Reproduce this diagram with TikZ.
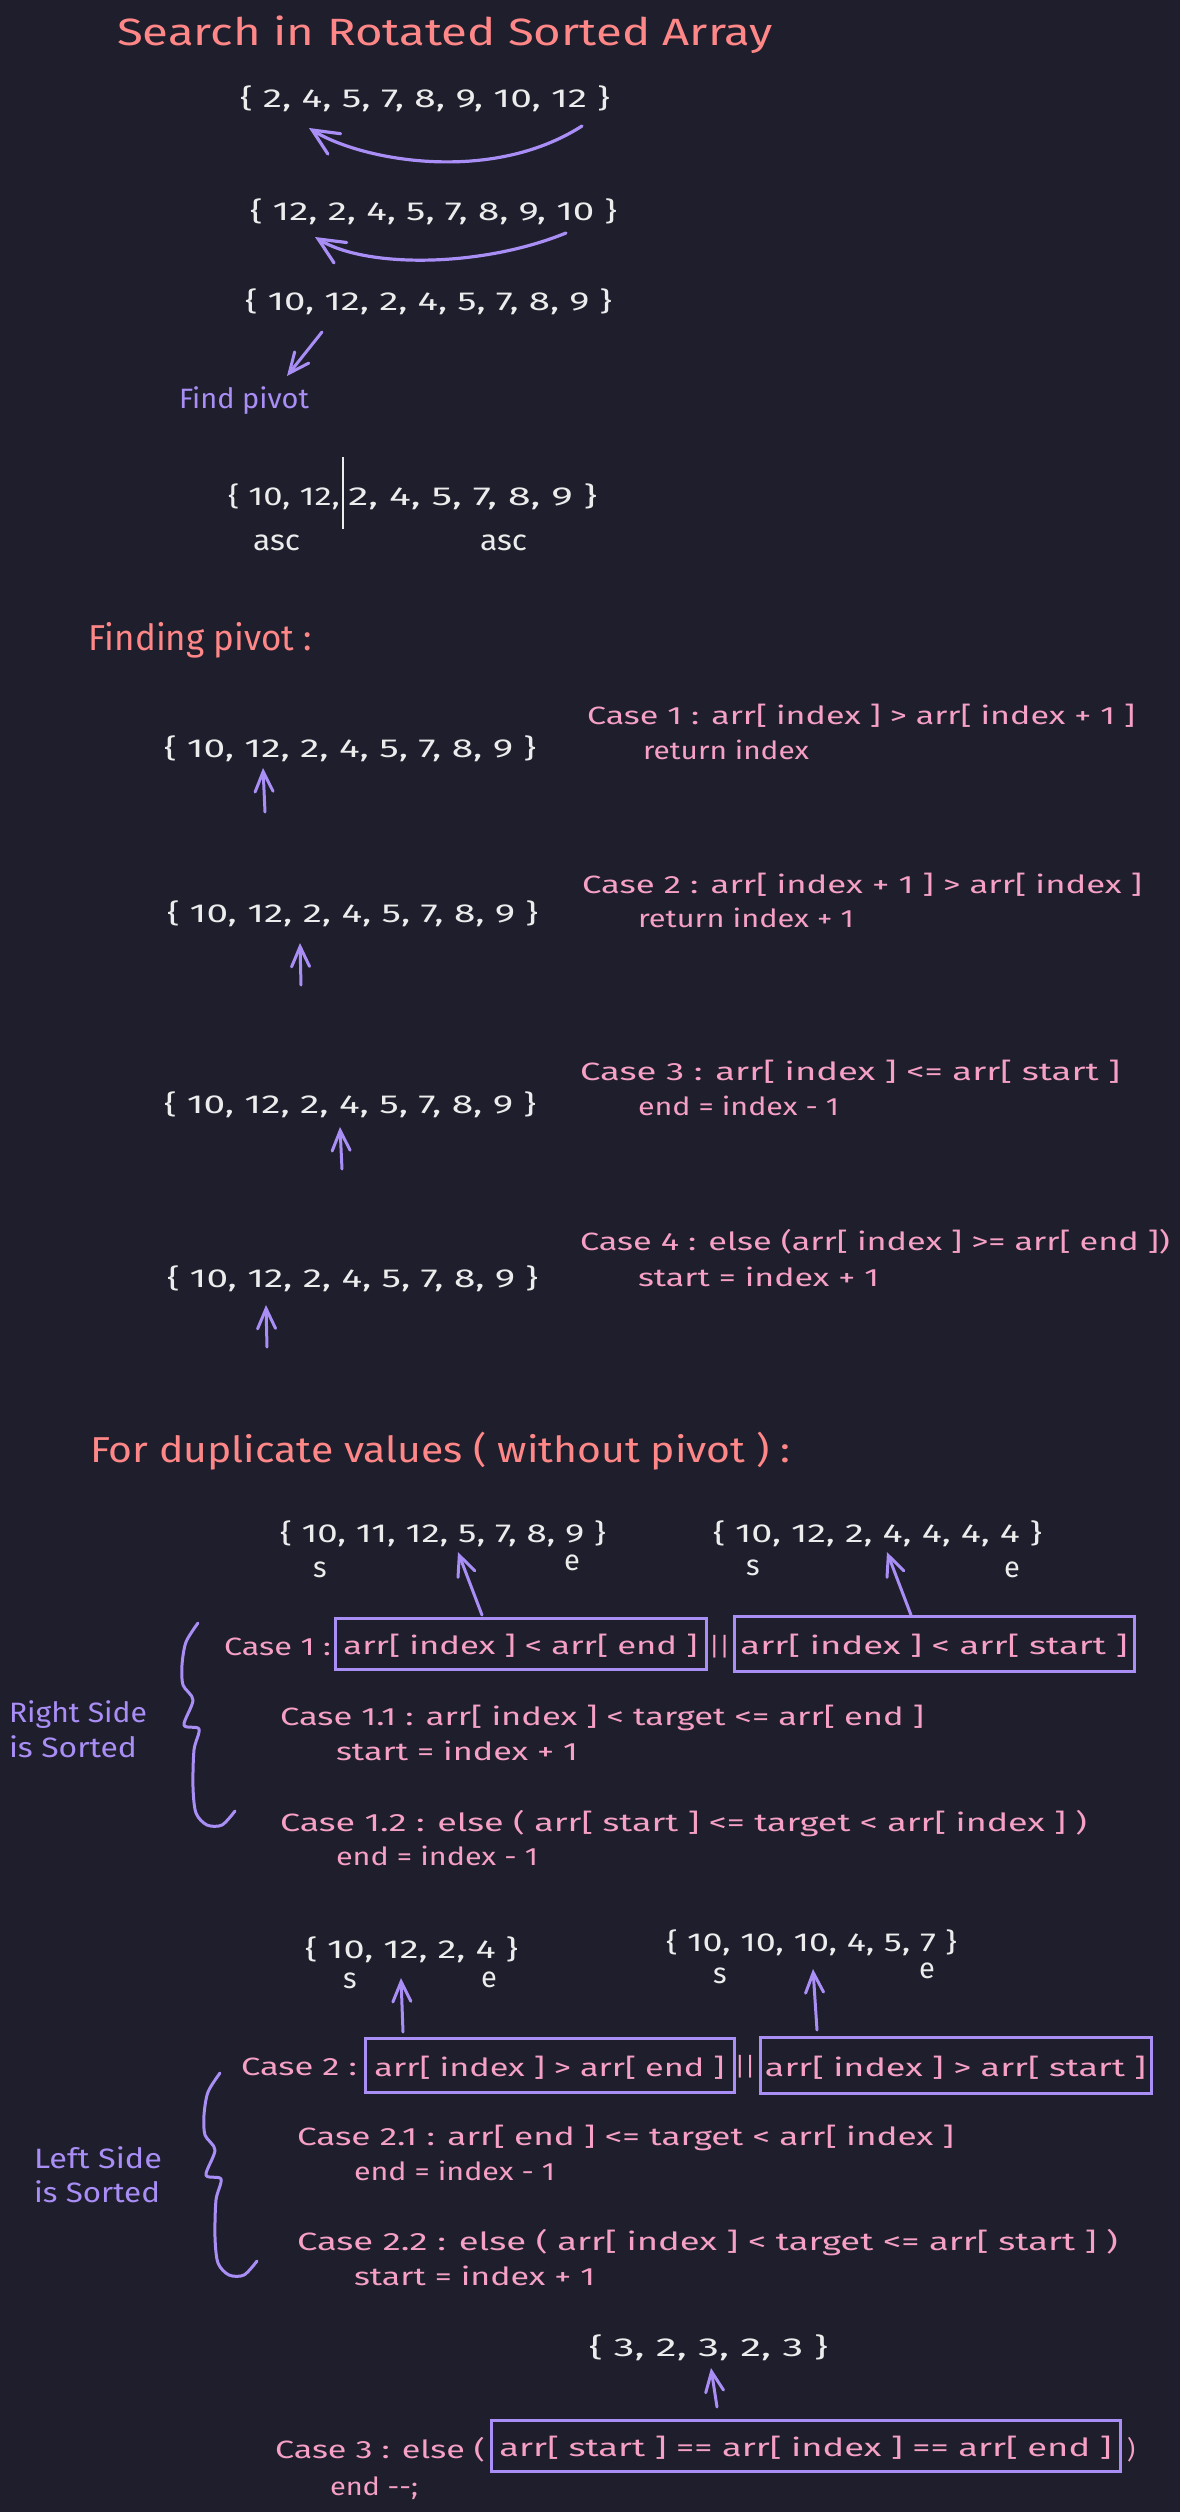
\documentclass[tikz,border=0pt]{standalone}
\usepackage{fontspec}
\setmainfont{Fira Sans}
\usepackage{graphicx}
\usetikzlibrary{arrows.meta}
\definecolor{bg}{HTML}{1E1E2C}
\definecolor{wht}{HTML}{ECECEC}
\definecolor{salm}{HTML}{FF8787}
\definecolor{pnk}{HTML}{F5A0C4}
\definecolor{purp}{HTML}{A98EF6}
\newdimen\mypx \mypx=0.5pt
\newcommand\ft[3]{\resizebox{#1\mypx}{#2pt}{\rule{0pt}{1em}#3}}
\tikzset{
 tx/.style={anchor=base west, inner sep=0pt, outer sep=0pt},
 wt/.style={tx, text=wht},
 pk/.style={tx, text=pnk},
 sm/.style={tx, text=salm},
 pp/.style={tx, text=purp},
 ltr/.style={anchor=base, inner sep=0pt, outer sep=0pt, text=wht, font=\fontsize{14.5}{16}\selectfont},
 orsym/.style={anchor=base, inner sep=0pt, outer sep=0pt, text=pnk, font=\fontsize{12.5}{15}\selectfont},
 bx/.style={draw=purp, line width=1.5pt, inner sep=0pt, text=pnk},
 parr/.style={draw=purp, line width=1.5pt, line cap=round, -{Straight Barb[length=10pt,width=9pt,line cap=round]}},
 carr/.style={draw=purp, line width=1.6pt, line cap=round, -{Straight Barb[length=13pt,width=12pt,line cap=round]}},
 brc/.style={draw=purp, line width=1.5pt, line cap=round, line join=round},
}
\begin{document}
\begin{tikzpicture}[x=0.5pt,y=-0.5pt]
\useasboundingbox (0,0) rectangle (1180,2512);
\fill[bg] (0,0) rectangle (1180,2512);

% ---- title and rotations
\node[sm] (title) at (117,45) {\ft{656}{19}{Search in Rotated Sorted Array}};
\node[wt] (arr1) at (240,107) {\ft{370}{13}{\{ 2, 4, 5, 7, 8, 9, 10, 12 \}}};
\node[wt] (arr2) at (250,220) {\ft{367}{13}{\{ 12, 2, 4, 5, 7, 8, 9, 10 \}}};
\node[wt] (arr3) at (245,310) {\ft{367}{13}{\{ 10, 12, 2, 4, 5, 7, 8, 9 \}}};
\coordinate (c1s) at (582,126);
\coordinate (c1e) at (309,128);
\draw[carr] (c1s) .. controls (490,185) and (360,160) .. (c1e);
\coordinate (c2s) at (566,233);
\coordinate (c2e) at (315,237);
\draw[carr] (c2s) .. controls (480,268) and (365,268) .. (c2e);
\coordinate (c3s) at (322,332);
\coordinate (c3e) at (287,376);
\draw[parr] (c3s) -- (c3e);
\node[pp] (findp) at (179,408) {\ft{130}{14}{Find pivot}};

% ---- split array
\node[wt] (spl1) at (228,505) {\ft{112}{13}{\{ 10, 12,}};
\node[wt] (spl2) at (348,505) {\ft{249}{13}{2, 4, 5, 7, 8, 9 \}}};
\coordinate (vt) at (343,457);
\coordinate (vb) at (343,529);
\draw[wht, line width=1.2pt] (vt) -- (vb);
\node[wt] (asc1) at (253,550) {\ft{47}{14.5}{asc}};
\node[wt] (asc2) at (480,550) {\ft{47}{14.5}{asc}};

% ---- finding pivot
\node[sm] (h1) at (89,650) {\ft{223}{18}{Finding pivot :}};

\node[wt] (r1) at (164,757) {\ft{372}{13}{\{ 10, 12, 2, 4, 5, 7, 8, 9 \}}};
\coordinate (a1s) at (265,812); \coordinate (a1e) at (263,768);
\draw[parr] (a1s) -- (a1e);
\node[pk] (k1) at (587,724) {\ft{548}{12.5}{Case 1 : arr[ index ] > arr[ index + 1 ]}};
\node[pk] (k1b) at (643,759) {\ft{166}{12.5}{return index}};

\node[wt] (r2) at (167,922) {\ft{371}{13}{\{ 10, 12, 2, 4, 5, 7, 8, 9 \}}};
\coordinate (a2s) at (301,985); \coordinate (a2e) at (300,943);
\draw[parr] (a2s) -- (a2e);
\node[pk] (k2) at (582,893) {\ft{560}{12.5}{Case 2 : arr[ index + 1 ] > arr[ index ]}};
\node[pk] (k2b) at (638,927) {\ft{216}{12.5}{return index + 1}};

\node[wt] (r3) at (164,1113) {\ft{372}{13}{\{ 10, 12, 2, 4, 5, 7, 8, 9 \}}};
\coordinate (a3s) at (342,1169); \coordinate (a3e) at (340,1127);
\draw[parr] (a3s) -- (a3e);
\node[pk] (k3) at (580,1080) {\ft{540}{12.5}{Case 3 : arr[ index ] <= arr[ start ]}};
\node[pk] (k3b) at (638,1115) {\ft{201}{12.5}{end = index - 1}};

\node[wt] (r4) at (167,1287) {\ft{371}{13}{\{ 10, 12, 2, 4, 5, 7, 8, 9 \}}};
\coordinate (a4s) at (267,1347); \coordinate (a4e) at (266,1305);
\draw[parr] (a4s) -- (a4e);
\node[pk] (k4) at (580,1250) {\ft{590}{12.5}{Case 4 : else (arr[ index ] >= arr[ end ])}};
\node[pk] (k4b) at (638,1286) {\ft{241}{12.5}{start = index + 1}};

% ---- duplicates
\node[sm] (h2) at (90,1462) {\ft{700}{18}{For duplicate values ( without pivot ) :}};

\node[wt] (arrA) at (280,1542) {\ft{326}{13}{\{ 10, 11, 12, 5, 7, 8, 9 \}}};
\node[ltr] (sA) at (320,1577) {s};
\node[ltr] (eA) at (572,1570) {e};
\node[wt] (arrB) at (713,1542) {\ft{329}{13}{\{ 10, 12, 2, 4, 4, 4, 4 \}}};
\node[ltr] (sB) at (753,1575) {s};
\node[ltr] (eB) at (1012,1577) {e};

\node[pk] (d1) at (224,1655) {\ft{107}{12.5}{Case 1 :}};
\node[bx, minimum width=185.5pt, minimum height=25.5pt] (boxA) at (520.5,1643.5) {\ft{354}{12.5}{arr[ index ] < arr[ end ]}};
\node[orsym] (or1) at (719.5,1655) {||};
\node[bx, minimum width=200pt, minimum height=27.5pt] (boxB) at (934,1643.5) {\ft{387}{12.5}{arr[ index ] < arr[ start ]}};
\coordinate (aAs) at (482,1615); \coordinate (aAe) at (458,1552);
\draw[parr] (aAs) -- (aAe);
\coordinate (aBs) at (911,1615); \coordinate (aBe) at (887,1552);
\draw[parr] (aBs) -- (aBe);

\draw[brc] plot[smooth, tension=0.5] coordinates {(198,1623) (186,1642) (182,1665) (183,1685) (193,1700) (184,1725) (199,1729) (194,1750) (193,1787) (196,1813) (207,1825) (222,1825) (235,1811)};
\node[pp] (rs1) at (9,1722) {\ft{138}{14}{Right Side}};
\node[pp] (rs2) at (9,1757) {\ft{128}{14}{is Sorted}};

\node[pk] (d11) at (280,1725) {\ft{644}{12.5}{Case 1.1 : arr[ index ] < target <= arr[ end ]}};
\node[pk] (d11b) at (336,1760) {\ft{242}{12.5}{start = index + 1}};
\node[pk] (d12) at (280,1831) {\ft{807}{12.5}{Case 1.2 : else ( arr[ start ] <= target < arr[ index ] )}};
\node[pk] (d12b) at (336,1865) {\ft{202}{12.5}{end = index - 1}};

\node[wt] (arrC) at (305,1958) {\ft{213}{13}{\{ 10, 12, 2, 4 \}}};
\node[ltr] (sC) at (350,1988) {s};
\node[ltr] (eC) at (489,1987) {e};
\node[wt] (arrD) at (666,1951) {\ft{291}{13}{\{ 10, 10, 10, 4, 5, 7 \}}};
\node[ltr] (sD) at (720,1983) {s};
\node[ltr] (eD) at (927,1978) {e};

\node[pk] (d2) at (241,2075) {\ft{116}{12.5}{Case 2 :}};
\node[bx, minimum width=184.5pt, minimum height=27pt] (boxC) at (549.5,2065) {\ft{350}{12.5}{arr[ index ] > arr[ end ]}};
\node[orsym] (or2) at (745,2075) {||};
\node[bx, minimum width=195.5pt, minimum height=28pt] (boxD) at (955.5,2065) {\ft{381}{12.5}{arr[ index ] > arr[ start ]}};
\coordinate (aCs) at (403,2032); \coordinate (aCe) at (401,1978);
\draw[parr] (aCs) -- (aCe);
\coordinate (aDs) at (817,2030); \coordinate (aDe) at (813,1969);
\draw[parr] (aDs) -- (aDe);

\begin{scope}[shift={(22,450)}]
\draw[brc] plot[smooth, tension=0.5] coordinates {(198,1623) (186,1642) (182,1665) (183,1685) (193,1700) (184,1725) (199,1729) (194,1750) (193,1787) (196,1813) (207,1825) (222,1825) (235,1811)};
\end{scope}
\node[pp] (ls1) at (34,2168) {\ft{128}{14}{Left Side}};
\node[pp] (ls2) at (34,2202) {\ft{126}{14}{is Sorted}};

\node[pk] (d21) at (297,2145) {\ft{657}{12.5}{Case 2.1 : arr[ end ] <= target < arr[ index ]}};
\node[pk] (d21b) at (354,2180) {\ft{201}{12.5}{end = index - 1}};
\node[pk] (d22) at (297,2250) {\ft{821}{12.5}{Case 2.2 : else ( arr[ index ] < target <= arr[ start ] )}};
\node[pk] (d22b) at (354,2285) {\ft{241}{12.5}{start = index + 1}};

\node[wt] (arrE) at (589,2356) {\ft{239}{13}{\{ 3, 2, 3, 2, 3 \}}};
\coordinate (aEs) at (717,2407); \coordinate (aEe) at (711,2368);
\draw[parr] (aEs) -- (aEe);
\node[pk] (d3) at (275,2458) {\ft{210}{12.5}{Case 3 : else (}};
\node[bx, minimum width=314.5pt, minimum height=25.5pt] (boxE) at (805.5,2445.5) {\ft{612}{12.5}{arr[ start ] == arr[ index ] == arr[ end ]}};
\node[pk] (d3p) at (1127,2458) {\fontsize{12.5}{15}\selectfont )};
\node[pk] (d3b) at (330,2495) {\ft{88}{12.5}{end -{}-;}};
\end{tikzpicture}
\end{document}
